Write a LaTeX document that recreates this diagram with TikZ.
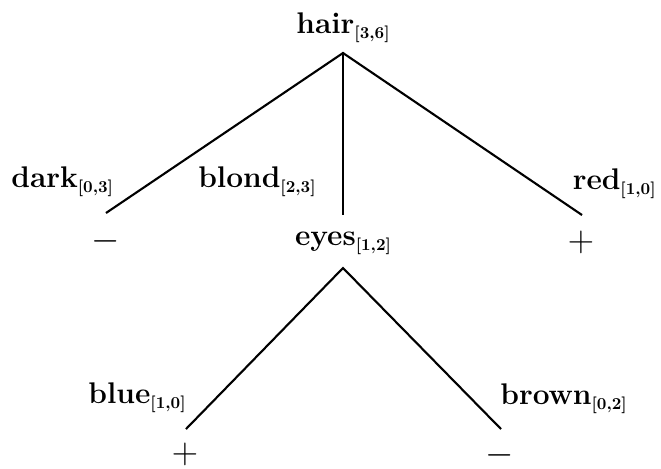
\documentclass[tikz,border=0pt]{standalone}
\usepackage{tikz}
\newcommand{\fsub}[1]{\raisebox{-3.3pt}{\fontsize{9.5}{11}\selectfont[#1]}}

\begin{document}
\begin{tikzpicture}[
    x=0.02cm, y=-0.02cm,
    attr/.style={font=\fontsize{17}{20}\selectfont\bfseries, inner sep=0pt},
    val/.style={font=\fontsize{20}{24}\selectfont, inner sep=0pt},
    branch/.style={line width=1.2pt}
]
\useasboundingbox (0,0) rectangle (661,468);
% --- Root ---
\node[attr, anchor=base] (hair) at (343,33) {hair\fsub{3,6}};
\coordinate (hairfoot) at (343,53);
% --- First level ---
\coordinate (darkend)  at (106,213);
\coordinate (blondend) at (343,215);
\coordinate (redend)   at (582,215);
\node[attr, anchor=base west] (darklab)  at (11,187) {dark\fsub{0,3}};
\node[attr, anchor=base east] (blondlab) at (316,187) {blond\fsub{2,3}};
\node[attr, anchor=base east] (redlab)   at (656,189) {red\fsub{1,0}};
\node[val] (darkval) at (106,241) {$-$};
\node[attr, anchor=base] (eyes) at (343,245) {eyes\fsub{1,2}};
\node[val] (redval) at (581,242) {$+$};
\draw[branch] (darkend) -- (hairfoot) -- (redend);
\draw[branch] (hairfoot) -- (blondend);
% --- Second level ---
\coordinate (eyesfoot) at (343,268);
\coordinate (blueend)  at (186,429);
\coordinate (brownend) at (501,429);
\node[attr, anchor=base east] (bluelab)  at (186,403) {blue\fsub{1,0}};
\node[attr, anchor=base west] (brownlab) at (500,404) {brown\fsub{0,2}};
\node[val] (blueval)  at (185,454) {$+$};
\node[val] (brownval) at (500,455) {$-$};
\draw[branch] (blueend) -- (eyesfoot) -- (brownend);
\end{tikzpicture}
\end{document}
